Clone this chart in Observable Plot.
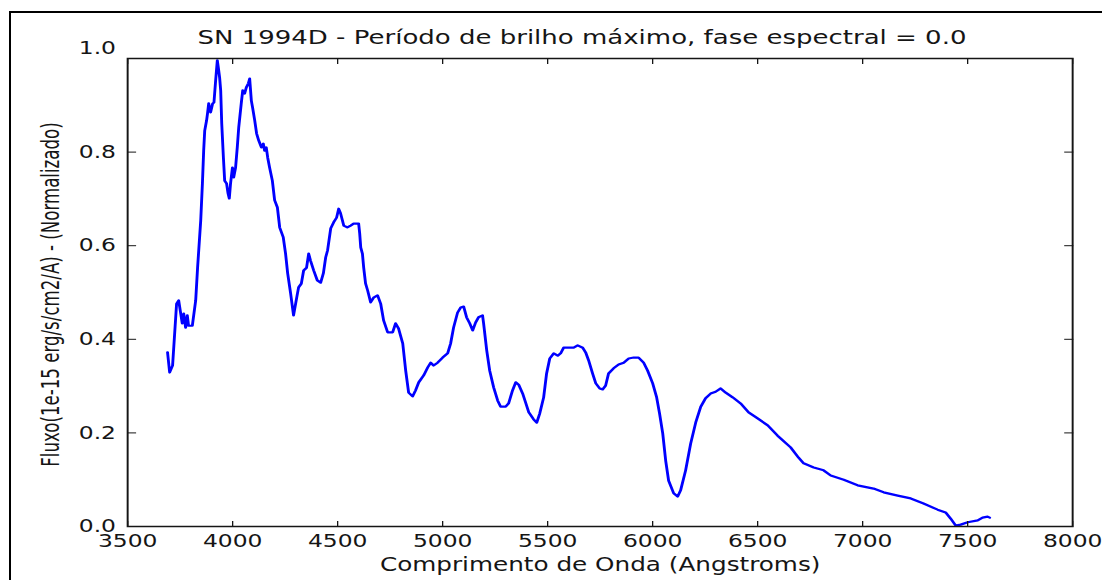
<!DOCTYPE html>
<html><head><meta charset="utf-8">
<script src="https://cdn.jsdelivr.net/npm/d3@7"></script>
<script src="https://cdn.jsdelivr.net/npm/@observablehq/plot@0.6"></script>
<style>
html,body{margin:0;padding:0;background:#fff;overflow:hidden;}
#wrap{position:relative;width:1102px;height:580px;overflow:hidden;}
#frame{position:absolute;left:9px;top:11px;width:1200px;height:700px;border-top:2px solid #000;border-left:2px solid #000;pointer-events:none;}
#chart svg{display:block;}
</style></head><body>
<div id="wrap"><div id="chart"></div><div id="frame"></div></div>
<script>
const titleText = "SN 1994D - Período de brilho máximo, fase espectral = 0.0";
const xLabel = "Comprimento de Onda (Angstroms)";
const yLabel = "Fluxo(1e-15 erg/s/cm2/A) - (Normalizado)";
const xTicks = [3500, 4000, 4500, 5000, 5500, 6000, 6500, 7000, 7500, 8000];
const yTicks = [0, 0.2, 0.4, 0.6, 0.8, 1.0];

const wavelength = [3690,3700,3714,3733,3743,3752,3760,3767,3776,3784,3790,3808,3824,3833,3848,3856,3862,3867,3876,3881,3886,3895,3905,3911,3919,3927,3932,3938,3943,3948,3956,3962,3971,3978,3984,3990,3999,4005,4014,4022,4029,4041,4048,4057,4065,4075,4081,4089,4095,4105,4114,4124,4137,4146,4152,4160,4167,4176,4189,4200,4213,4224,4241,4252,4262,4276,4290,4305,4314,4327,4338,4352,4362,4371,4386,4403,4419,4432,4443,4452,4467,4481,4495,4505,4514,4529,4546,4562,4576,4594,4600,4605,4610,4618,4624,4633,4643,4657,4671,4690,4705,4719,4738,4762,4776,4790,4810,4824,4838,4857,4871,4886,4910,4929,4943,4957,4976,5000,5024,5038,5052,5071,5086,5100,5114,5129,5143,5157,5171,5190,5195,5210,5224,5243,5262,5276,5300,5314,5333,5348,5362,5381,5395,5410,5433,5448,5462,5481,5495,5510,5529,5548,5562,5576,5600,5624,5643,5667,5681,5695,5714,5729,5748,5762,5776,5790,5814,5838,5862,5886,5910,5933,5957,5976,6000,6019,6033,6048,6062,6076,6100,6119,6133,6157,6181,6205,6229,6252,6276,6300,6324,6348,6381,6419,6457,6500,6548,6595,6657,6695,6719,6767,6814,6848,6910,6976,7052,7100,7167,7229,7290,7357,7395,7419,7443,7467,7500,7548,7571,7595,7605];
const flux = [0.372,0.329,0.344,0.476,0.483,0.457,0.434,0.455,0.425,0.451,0.429,0.429,0.483,0.553,0.654,0.733,0.803,0.846,0.868,0.885,0.904,0.885,0.904,0.906,0.953,0.996,0.98,0.959,0.932,0.861,0.788,0.739,0.733,0.712,0.701,0.733,0.767,0.746,0.767,0.81,0.853,0.904,0.932,0.925,0.938,0.947,0.957,0.91,0.895,0.868,0.84,0.825,0.81,0.818,0.803,0.81,0.788,0.767,0.739,0.697,0.682,0.639,0.618,0.583,0.541,0.498,0.451,0.489,0.511,0.519,0.547,0.553,0.583,0.568,0.547,0.526,0.521,0.541,0.575,0.59,0.637,0.65,0.66,0.679,0.669,0.643,0.639,0.643,0.647,0.647,0.647,0.626,0.596,0.583,0.553,0.519,0.504,0.479,0.489,0.494,0.476,0.44,0.415,0.415,0.434,0.423,0.391,0.333,0.286,0.278,0.291,0.308,0.323,0.34,0.35,0.344,0.35,0.361,0.37,0.391,0.425,0.457,0.468,0.47,0.447,0.434,0.419,0.436,0.447,0.451,0.434,0.376,0.333,0.297,0.269,0.256,0.256,0.263,0.291,0.308,0.303,0.284,0.265,0.244,0.229,0.222,0.241,0.276,0.327,0.359,0.37,0.365,0.37,0.382,0.382,0.382,0.387,0.382,0.372,0.355,0.327,0.306,0.295,0.293,0.301,0.327,0.338,0.346,0.35,0.359,0.361,0.361,0.35,0.333,0.306,0.276,0.241,0.199,0.141,0.098,0.071,0.064,0.077,0.12,0.177,0.222,0.256,0.274,0.284,0.288,0.295,0.286,0.276,0.263,0.244,0.231,0.216,0.194,0.169,0.147,0.135,0.126,0.12,0.109,0.1,0.088,0.081,0.073,0.066,0.06,0.049,0.036,0.03,0.017,0.002,0.004,0.009,0.013,0.019,0.021,0.019];

const spectrum = wavelength.map((w, i) => ({w, f: flux[i]}));

const S = 1.3;
const W0 = 1102 / S;
const fmt1 = d => d.toFixed(1);
const ink = "#151515";

const chart = Plot.plot({
  width: W0,
  height: 580,
  marginLeft: 127 / S,
  marginRight: 30 / S,
  marginTop: 58,
  marginBottom: 54,
  style: {fontFamily: "'DejaVu Sans', sans-serif", fontSize: "18px", color: ink, background: "transparent"},
  x: {domain: [3500, 8000]},
  y: {domain: [0, 1]},
  marks: [
    Plot.line(spectrum, {x: "w", y: "f", stroke: "#0000ff", strokeWidth: 2.2}),
    Plot.frame({stroke: ink, strokeWidth: 1.5}),
    Plot.axisX(xTicks, {anchor: "bottom", tickSize: -5, fill: "none", label: null}),
    Plot.axisX(xTicks, {anchor: "top", tickSize: -5, fill: "none", label: null}),
    Plot.axisY(yTicks, {anchor: "left", tickSize: -7, fill: "none", label: null}),
    Plot.axisY(yTicks, {anchor: "right", tickSize: -7, fill: "none", label: null}),
    Plot.axisX(xTicks, {anchor: "bottom", tickSize: 0, tickPadding: 8, label: null, tickFormat: d => String(d)}),
    Plot.axisY(yTicks.filter(v => v < 1), {anchor: "left", tickSize: 0, tickPadding: 9, label: null, tickFormat: fmt1}),
    Plot.axisY(yTicks.filter(v => v >= 1), {anchor: "left", tickSize: 0, tickPadding: 9, label: null, tickFormat: fmt1, dy: -10}),
    Plot.text([xLabel], {frameAnchor: "bottom", lineAnchor: "middle", textAnchor: "middle", dy: 38, fontSize: 19}),
    Plot.text([yLabel], {frameAnchor: "left", textAnchor: "middle", lineAnchor: "middle", rotate: -90, dx: -59, dy: 2, fontSize: 18.5,
      fontFamily: "'DejaVu Sans Condensed', 'Liberation Sans Narrow', 'DejaVu Sans', sans-serif", fontStretch: "condensed"}),
    Plot.text([titleText], {frameAnchor: "top", textAnchor: "middle", lineAnchor: "bottom", dy: -15, dx: -14, fontSize: 20})
  ]
});

chart.setAttribute("width", 1102);
chart.setAttribute("height", 580);
chart.setAttribute("preserveAspectRatio", "none");
chart.style.width = "1102px";
chart.style.height = "580px";
chart.style.maxWidth = "none";
document.getElementById("chart").appendChild(chart);
</script>
</body></html>
